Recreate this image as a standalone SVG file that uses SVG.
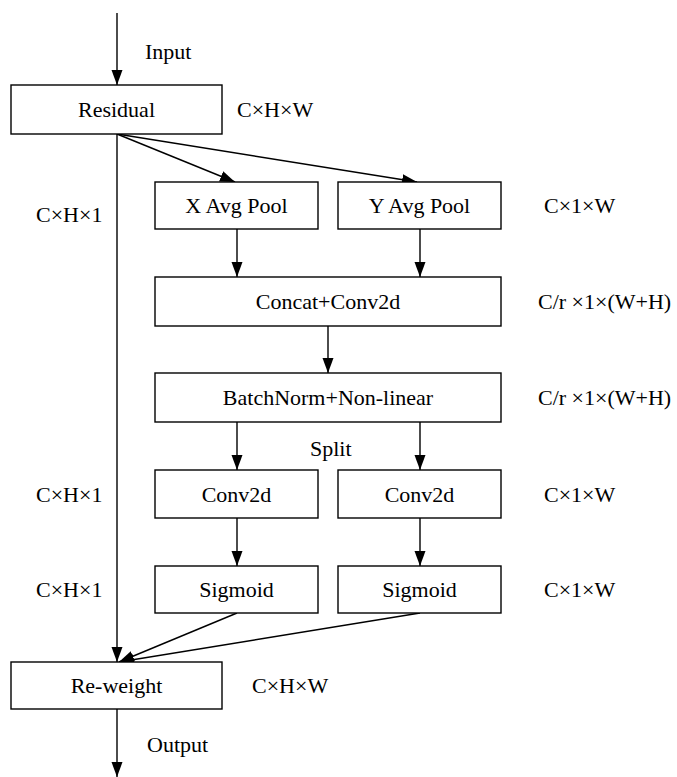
<svg xmlns="http://www.w3.org/2000/svg" width="677" height="777" viewBox="0 0 677 777">
<style>
.box{fill:#fff;stroke:#000;stroke-width:1.4}
.t{font-family:"Liberation Serif","Times New Roman",serif;font-size:22px;fill:#000}
.c{text-anchor:middle}
.ln{stroke:#000;stroke-width:1.4;fill:none;marker-end:url(#ah)}
</style>
<defs>
<marker id="ah" markerUnits="userSpaceOnUse" markerWidth="16" markerHeight="12" refX="15" refY="6" orient="auto">
<path d="M0,0.5 L15,6 L0,11.5 z" fill="#000"/>
</marker>
</defs>
<g id="connectors">
<line class="ln" x1="117" y1="13" x2="117" y2="85"/>
<line class="ln" x1="117" y1="134" x2="117" y2="662"/>
<line class="ln" x1="117" y1="134" x2="235" y2="182"/>
<line class="ln" x1="117" y1="134" x2="417" y2="182"/>
<line class="ln" x1="237" y1="229" x2="237" y2="277"/>
<line class="ln" x1="420" y1="229" x2="420" y2="277"/>
<line class="ln" x1="328" y1="326" x2="328" y2="373"/>
<line class="ln" x1="237" y1="422" x2="237" y2="470"/>
<line class="ln" x1="420" y1="422" x2="420" y2="470"/>
<line class="ln" x1="237" y1="518" x2="237" y2="566"/>
<line class="ln" x1="420" y1="518" x2="420" y2="566"/>
<line class="ln" x1="237" y1="613" x2="119" y2="662"/>
<line class="ln" x1="420" y1="613" x2="119" y2="662"/>
<line class="ln" x1="117" y1="709" x2="117" y2="777"/>
</g>
<g id="residual"><rect class="box" x="11" y="85" width="211" height="49"/><text class="t c" x="116.5" y="117">Residual</text></g>
<g id="xavgpool"><rect class="box" x="155" y="182" width="163" height="47"/><text class="t c" x="236.5" y="213">X Avg Pool</text></g>
<g id="yavgpool"><rect class="box" x="338" y="182" width="163" height="47"/><text class="t c" x="419.5" y="213">Y Avg Pool</text></g>
<g id="concat"><rect class="box" x="155" y="277" width="346" height="49"/><text class="t c" x="328" y="309">Concat+Conv2d</text></g>
<g id="batchnorm"><rect class="box" x="155" y="373" width="346" height="49"/><text class="t c" x="328" y="405">BatchNorm+Non-linear</text></g>
<g id="conv2d-left"><rect class="box" x="155" y="470" width="163" height="48"/><text class="t c" x="236.5" y="502">Conv2d</text></g>
<g id="conv2d-right"><rect class="box" x="338" y="470" width="163" height="48"/><text class="t c" x="419.5" y="502">Conv2d</text></g>
<g id="sigmoid-left"><rect class="box" x="155" y="566" width="163" height="47"/><text class="t c" x="236.5" y="597">Sigmoid</text></g>
<g id="sigmoid-right"><rect class="box" x="338" y="566" width="163" height="47"/><text class="t c" x="419.5" y="597">Sigmoid</text></g>
<g id="reweight"><rect class="box" x="11" y="662" width="211" height="47"/><text class="t c" x="116.5" y="693">Re-weight</text></g>
<g id="labels">
<text class="t" x="145" y="59">Input</text>
<text class="t" x="237" y="117">C×H×W</text>
<text class="t" x="36" y="222">C×H×1</text>
<text class="t" x="544" y="213">C×1×W</text>
<text class="t" x="538" y="309">C/r ×1×(W+H)</text>
<text class="t" x="538" y="405">C/r ×1×(W+H)</text>
<text class="t" x="310" y="456">Split</text>
<text class="t" x="36" y="502">C×H×1</text>
<text class="t" x="544" y="502">C×1×W</text>
<text class="t" x="36" y="597">C×H×1</text>
<text class="t" x="544" y="597">C×1×W</text>
<text class="t" x="252" y="693">C×H×W</text>
<text class="t" x="147" y="752">Output</text>
</g>
</svg>
